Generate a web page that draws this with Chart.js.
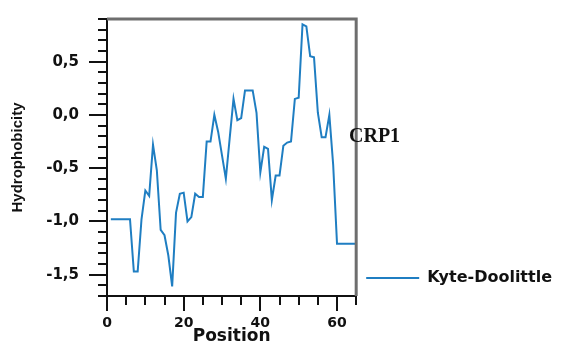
<!DOCTYPE html>
<html>
<head>
<meta charset="utf-8">
<script src="https://cdn.jsdelivr.net/npm/chart.js@4.4.1/dist/chart.umd.min.js"></script>
<style>
    html, body { margin: 0; padding: 0; background: #fff; }
    #wrap { width: 565px; height: 342px; }
</style>
</head>
<body>
<div id="wrap"><canvas id="myChart" width="565" height="342"></canvas></div>
<script>
// Positionen und Werte
var positions = [];
for (var p = 1; p <= 65; p++) positions.push(p);
var hydro = [
    -0.98, -0.98, -0.98, -0.98, -0.98, -0.98, -1.47, -1.47, -0.98, -0.71,
    -0.76, -0.28, -0.52, -1.08, -1.13, -1.32, -1.61, -0.92, -0.74, -0.73,
    -1.00, -0.96, -0.74, -0.77, -0.77, -0.25, -0.25, 0.00, -0.16, -0.38,
    -0.60, -0.22, 0.15, -0.05, -0.03, 0.23, 0.23, 0.23, 0.02, -0.54,
    -0.30, -0.32, -0.80, -0.57, -0.57, -0.29, -0.26, -0.25, 0.15, 0.16,
    0.85, 0.83, 0.55, 0.54, 0.02, -0.21, -0.21, 0.00, -0.47, -1.21,
    -1.21, -1.21, -1.21, -1.21, -1.21
];
var seriesName = "Kyte-Doolittle";
var xTitle = "Position";
var yTitle = "Hydrophobicity";
var label = "CRP1";
var lineColor = "#1f7ec2";

function isMult(v, step) {
    var r = v / step;
    return Math.abs(r - Math.round(r)) < 1e-6;
}

// Achsenstriche (lang/kurz) und Rahmen oben/rechts
var frame = {
    id: 'frame',
    afterDraw: function (chart) {
        var ctx = chart.ctx;
        var a = chart.chartArea;
        var xs = chart.scales.x;
        var ys = chart.scales.y;
        ctx.save();
        ctx.strokeStyle = '#6e6e6e';
        ctx.lineWidth = 3;
        ctx.beginPath();
        ctx.moveTo(a.left, a.top);
        ctx.lineTo(a.right, a.top);
        ctx.lineTo(a.right, a.bottom);
        ctx.stroke();
        ctx.strokeStyle = '#111';
        ctx.lineWidth = 2;
        ctx.beginPath();
        xs.ticks.forEach(function (t) {
            var px = Math.round(xs.getPixelForValue(t.value));
            var len = isMult(t.value, 20) ? 15 : 9;
            ctx.moveTo(px, a.bottom);
            ctx.lineTo(px, a.bottom + len);
        });
        ys.ticks.forEach(function (t) {
            var py = Math.round(ys.getPixelForValue(t.value));
            var len = isMult(t.value, 0.5) ? 18 : 9;
            ctx.moveTo(a.left, py);
            ctx.lineTo(a.left - len, py);
        });
        ctx.stroke();
        ctx.fillStyle = '#111';
        ctx.font = "bold 20px 'Liberation Serif'";
        ctx.textBaseline = 'alphabetic';
        ctx.fillText(label, 349, 142);
        ctx.restore();
    }
};

new Chart("myChart", {
    type: "line",
    data: {
        labels: positions,
        datasets: [{
            label: seriesName,
            data: hydro,
            borderColor: lineColor,
            backgroundColor: lineColor,
            borderWidth: 2,
            pointRadius: 0,
            tension: 0
        }]
    },
    options: {
        responsive: false,
        animation: false,
        layout: { padding: { top: 14, right: 3, left: 0, bottom: 0 } },
        plugins: {
            tooltip: { enabled: false },
            legend: {
                position: 'right',
                align: 'end',
                fullSize: false,
                maxWidth: 260,
                labels: {
                    usePointStyle: true,
                    pointStyle: 'line',
                    pointStyleWidth: 53,
                    padding: 10,
                    color: '#111',
                    font: { family: 'DejaVu Sans', weight: 'bold', size: 16 }
                }
            }
        },
        scales: {
            x: {
                type: 'linear',
                min: 0,
                max: 65,
                afterFit: function (scale) { scale.height = 46; },
                border: { color: '#111', width: 2 },
                grid: { drawOnChartArea: false, drawTicks: true, tickLength: 15, tickColor: 'rgba(0,0,0,0)' },
                ticks: {
                    stepSize: 5,
                    padding: 4,
                    maxRotation: 0,
                    autoSkip: false,
                    color: '#111',
                    font: { family: 'DejaVu Sans', weight: 'bold', size: 14 },
                    callback: function (v) { return isMult(v, 20) ? String(v) : ''; }
                },
                title: {
                    display: true,
                    text: xTitle,
                    color: '#111',
                    padding: 0,
                    font: { family: 'DejaVu Sans', weight: 'bold', size: 17, lineHeight: 0.6 }
                }
            },
            y: {
                min: -1.7,
                max: 0.9,
                afterFit: function (scale) { scale.width = 107; },
                border: { color: '#111', width: 2 },
                grid: { drawOnChartArea: false, drawTicks: true, tickLength: 18, tickColor: 'rgba(0,0,0,0)' },
                ticks: {
                    stepSize: 0.1,
                    padding: 10,
                    autoSkip: false,
                    color: '#111',
                    font: { family: 'DejaVu Sans', weight: 'bold', size: 15 },
                    callback: function (v) {
                        if (!isMult(v, 0.5)) return '';
                        var s = (Math.round(v * 10) / 10).toFixed(1);
                        if (s === '-0.0') s = '0.0';
                        return s.replace('.', ',');
                    }
                },
                title: {
                    display: true,
                    text: yTitle,
                    color: '#111',
                    padding: 0,
                    font: { family: 'Liberation Sans', weight: 'bold', size: 15, lineHeight: 2.4 }
                }
            }
        }
    },
    plugins: [frame]
});
</script>
</body>
</html>
